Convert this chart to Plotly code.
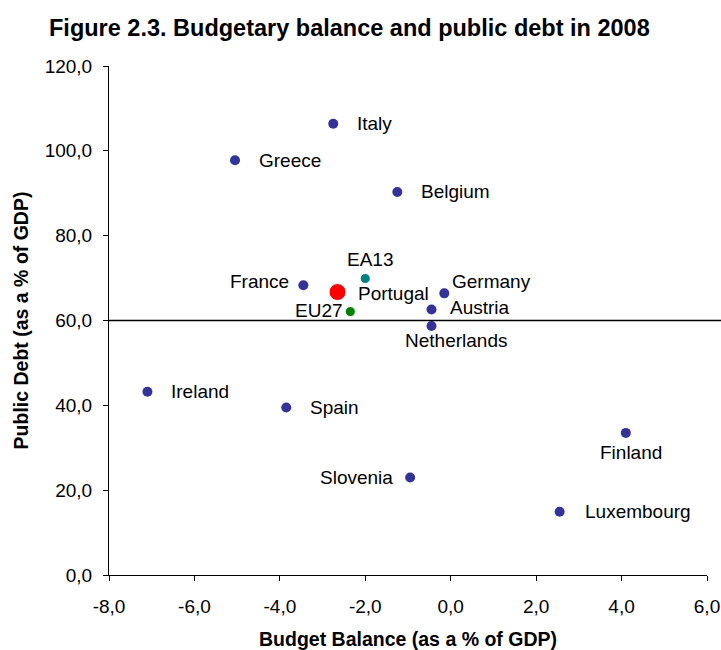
import plotly.graph_objects as go

# Budget balance (x) and public debt (y), % of GDP, 2008
countries = ["Italy", "Greece", "Belgium", "France", "Germany", "Austria",
             "Netherlands", "Ireland", "Spain", "Slovenia", "Finland", "Luxembourg"]
balance = [-2.75, -5.05, -1.25, -3.45, -0.15, -0.45, -0.45, -7.1, -3.85, -0.95, 4.1, 2.55]
debt = [106.4, 97.8, 90.3, 68.3, 66.4, 62.6, 58.7, 43.2, 39.5, 23.0, 33.5, 14.9]

aggregates = ["Portugal", "EA13", "EU27"]
agg_balance = [-2.65, -2.0, -2.35]
agg_debt = [66.7, 69.9, 62.1]

debt_threshold = 60.0
x_ticks = [-8, -6, -4, -2, 0, 2, 4, 6]
y_ticks = [0, 20, 40, 60, 80, 100, 120]


def comma_label(v):
    # one decimal, comma as decimal mark, plain hyphen for negatives
    return f"{v:.1f}".replace(".", ",")


FONT = "Liberation Sans, Arial, sans-serif"
NAVY = "#333399"

# label placement: (xanchor, xshift, yshift) in pixels from the marker
label_pos = {
    "Italy": ("left", 23, 0), "Greece": ("left", 23, 0), "Belgium": ("left", 23, 0),
    "Ireland": ("left", 23, 0), "Spain": ("left", 23, 0), "Luxembourg": ("left", 24, 0),
    "Slovenia": ("right", -16, 0), "Finland": ("center", 5, -20),
    "Germany": ("left", 7, 12), "Austria": ("left", 18, 2),
    "Netherlands": ("center", 25, -14), "France": ("right", -13, 4),
    "EA13": ("center", 5, 19), "Portugal": ("left", 19, -1), "EU27": ("right", -6, 1),
}

fig = go.Figure()

fig.add_trace(go.Scatter(
    x=balance, y=debt, mode="markers",
    marker=dict(color=NAVY, size=10, opacity=1), showlegend=False))

fig.add_trace(go.Scatter(
    x=agg_balance, y=agg_debt, mode="markers",
    marker=dict(color=["#FF0000", "#008080", "#008000"], size=[17, 10, 10], opacity=1),
    showlegend=False))

# 60% debt reference line, running to the right edge of the figure
fig.add_shape(type="line", xref="paper", yref="y", x0=0, x1=1.03,
              y0=debt_threshold, y1=debt_threshold,
              line=dict(color="black", width=1.3), layer="above")

for name, x, y in zip(countries + aggregates, balance + agg_balance, debt + agg_debt):
    anchor, dx, dy = label_pos[name]
    fig.add_annotation(
        x=x, y=y, text=name, showarrow=False, xanchor=anchor, yanchor="middle",
        xshift=dx, yshift=dy, borderpad=0,
        font=dict(family=FONT, size=19, color="black"))

axis_common = dict(
    showline=True, linecolor="black", linewidth=1, ticks="outside",
    tickcolor="black", ticklen=5, tickwidth=1, showgrid=False, zeroline=False,
    automargin=False, tickfont=dict(family=FONT, size=19, color="black"),
)

fig.update_layout(
    width=721, height=650,
    margin=dict(l=109, r=14, t=66, b=75),
    paper_bgcolor="white", plot_bgcolor="white",
    font=dict(family=FONT, color="black"),
    title=dict(
        text="<b>Figure 2.3. Budgetary balance and public debt in 2008</b>",
        xref="container", yref="container", x=49 / 721, xanchor="left",
        y=1 - 28 / 650, yanchor="middle",
        font=dict(family=FONT, size=23.5, color="black")),
    xaxis=dict(range=[-8, 6], tickmode="array", tickvals=x_ticks,
               ticktext=[comma_label(v) for v in x_ticks], ticklabelstandoff=9,
               title=dict(text="<b>Budget Balance (as a % of GDP)</b>", standoff=18,
                          font=dict(family=FONT, size=19.5, color="black")),
               **axis_common),
    yaxis=dict(range=[0, 120], tickmode="array", tickvals=y_ticks,
               ticktext=[comma_label(v) for v in y_ticks], ticklabelstandoff=7,
               title=dict(text="<b>Public Debt (as a % of GDP)</b>", standoff=10,
                          font=dict(family=FONT, size=19.5, color="black")),
               **axis_common),
)

fig.write_html("out.html")
